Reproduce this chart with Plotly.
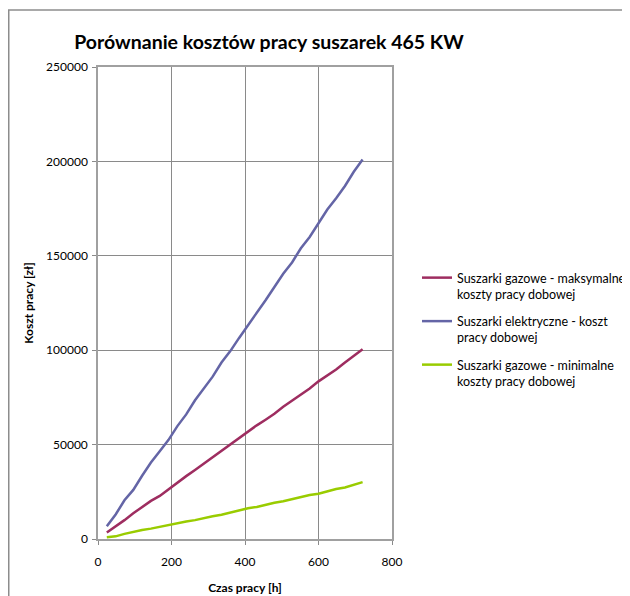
import plotly.graph_objects as go

hours = [24, 48, 72, 96, 120, 144, 168, 192, 216, 240, 264, 288, 312, 336, 360,
         384, 408, 432, 456, 480, 504, 528, 552, 576, 600, 624, 648, 672, 696, 720]

gas_max = [3400, 6600, 10000, 13600, 17000, 20200, 22800, 26400, 29800, 33300,
           36600, 40000, 43200, 46500, 50000, 53300, 56700, 60200, 63200, 66300,
           70000, 73200, 76500, 79700, 83500, 86700, 89800, 93500, 97000, 100500]

electric = [6700, 13000, 20500, 26000, 33500, 40500, 46500, 52500, 59800, 66000,
            73500, 80000, 86000, 93500, 99500, 106500, 113000, 120000, 126500, 133500,
            140500, 146500, 154000, 160000, 167000, 174500, 180500, 187000, 194500, 201000]

gas_min = [900, 1400, 2700, 3800, 4800, 5500, 6500, 7500, 8700, 9300,
           10000, 11200, 12000, 12800, 14000, 15000, 16300, 17000, 18200, 19200,
           20000, 21200, 22300, 23300, 24000, 25400, 26500, 27300, 28500, 30100]

names = ["Suszarki gazowe - maksymalne<br>koszty pracy dobowej",
         "Suszarki elektryczne - koszt<br>pracy dobowej",
         "Suszarki gazowe - minimalne<br>koszty pracy dobowej"]
colors = ["#9E2D60", "#6465A6", "#99CC00"]

FONT = "Lato"

fig = go.Figure()
for i, (ys, nm, c) in enumerate(zip([gas_max, electric, gas_min], names, colors)):
    fig.add_trace(go.Scatter(x=hours, y=ys, mode="lines", name=nm,
                             legendgroup="g%d" % i,
                             line=dict(color=c, width=2.5)))

# the page body has an 8px margin; work in page pixels and convert
OFF = 8
W, H = 630, 596
PL, PR, PT, PB = 98, 392, 67, 539          # plot area in page pixels
L, R, T, B = PL - OFF, W - (PR - OFF), PT - OFF, H - (PB - OFF)
pw, ph = W - L - R, H - T - B

def px(x):
    return (x - OFF - L) / pw

def py(y):
    return (H - B - (y - OFF)) / ph

fig.update_layout(
    width=W, height=H,
    margin=dict(l=L, r=R, t=T, b=B, autoexpand=False),
    paper_bgcolor="white", plot_bgcolor="white",
    font=dict(family=FONT, size=12, color="#000000"),
    title=dict(text="<b>Porównanie kosztów pracy suszarek 465 KW</b>",
               font=dict(family=FONT, size=19.5, color="#000000"),
               x=(269 - OFF) / W, xref="container", xanchor="center",
               y=1 - (42 - OFF) / H, yref="container", yanchor="middle"),
    showlegend=True,
    legend=dict(x=px(417), y=py(263), xanchor="left", yanchor="top",
                valign="top", font=dict(family=FONT, size=12.5, color="#000000"),
                itemwidth=30, tracegroupgap=8, bgcolor="rgba(0,0,0,0)"),
    xaxis=dict(range=[0, 800], dtick=200, tick0=0, automargin=False,
               showgrid=True, gridcolor="#8a8a8a", gridwidth=1,
               showline=True, linecolor="#a0a0a0", linewidth=1.5, mirror=True,
               ticks="outside", ticklen=4, tickcolor="#8a8a8a",
               ticklabelstandoff=7,
               zeroline=False, tickfont=dict(size=12),
               title=dict(text="<b>Czas pracy [h]</b>", font=dict(size=12), standoff=15)),
    yaxis=dict(range=[0, 250000], dtick=50000, tick0=0, tickformat="d", automargin=False,
               showgrid=True, gridcolor="#8a8a8a", gridwidth=1,
               showline=True, linecolor="#a0a0a0", linewidth=1.5, mirror=True,
               ticks="outside", ticklen=4, tickcolor="#8a8a8a",
               ticklabelstandoff=2,
               zeroline=False, tickfont=dict(size=12),
               title=dict(text="<b>Koszt pracy [zł]</b>", font=dict(size=12), standoff=10)),
    shapes=[
        dict(type="line", xref="paper", yref="paper",
             x0=px(8.75), x1=px(8.75), y0=py(10), y1=py(620),
             line=dict(color="#8c8c8c", width=1.5)),
        dict(type="line", xref="paper", yref="paper",
             x0=px(8), x1=px(660), y0=py(10), y1=py(10),
             line=dict(color="#8c8c8c", width=1.5)),
    ],
)

fig.write_html("out.html")
